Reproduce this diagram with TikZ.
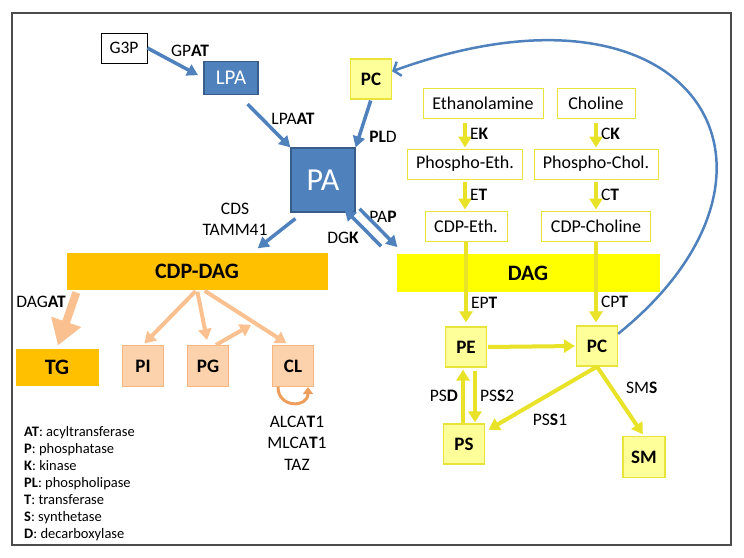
\documentclass[tikz,border=0pt]{standalone}
\usepackage{fontspec}
\setmainfont{Carlito}
\usepackage{tikz}
\usetikzlibrary{positioning,arrows.meta,calc}

\definecolor{pablue}{RGB}{79,129,189}
\definecolor{padark}{RGB}{56,93,138}
\definecolor{cdporange}{RGB}{255,192,0}
\definecolor{dagyellow}{RGB}{255,255,0}
\definecolor{lipyellow}{RGB}{255,255,153}
\definecolor{lipedge}{RGB}{232,228,60}
\definecolor{flowyellow}{RGB}{232,226,40}
\definecolor{peach}{RGB}{250,192,144}
\definecolor{peachfill}{RGB}{252,210,172}
\definecolor{peachedge}{RGB}{247,182,128}
\definecolor{cyclor}{RGB}{238,158,92}

\newcommand{\setfs}[2]{\fontsize{#1}{#2}\selectfont}

\begin{document}
\begin{tikzpicture}[x=1pt, y=-1pt,
  glyc/.style={fill=pablue, draw=padark, line width=1.2pt, text=white, inner sep=0pt},
  lipid/.style={fill=lipyellow, draw=lipedge, line width=1.2pt, inner sep=0pt,
    minimum width=41pt, minimum height=40pt, font=\bfseries\setfs{19}{21}},
  precursor/.style={fill=white, draw=lipedge, line width=1pt, inner sep=0pt,
    minimum height=30pt, font=\setfs{18}{21}},
  anionic/.style={fill=peachfill, draw=peachedge, line width=1.2pt, inner sep=0pt,
    minimum size=41pt, font=\bfseries\setfs{19}{21}},
  band/.style={inner sep=0pt, minimum height=37pt, font=\bfseries\setfs{22}{25}},
  enz/.style={font=\setfs{17.5}{21}, inner sep=3pt},
  bflow/.style={draw=pablue, line width=3.5pt, -{Triangle[length=11pt,width=12pt]}},
  yflow/.style={draw=flowyellow, line width=4pt, -{Triangle[length=11pt,width=13pt]}},
  oflow/.style={draw=peach, line width=4pt, -{Triangle[length=11pt,width=13pt]}}]

  \useasboundingbox (0,0) rectangle (744,557);
  \draw[black!70, line width=1.5pt] (12,13) rectangle (731,545);

  \node[draw, fill=white, line width=0.8pt, minimum width=46pt, minimum height=30pt,
    inner sep=0pt, font=\setfs{17.5}{20}] (g3p) at (124,48) {G3P};
  \node[glyc, minimum width=54pt, minimum height=33pt, font=\setfs{21}{24}] (lpa) at (231,78) {LPA};
  \node[glyc, minimum size=64pt, font=\setfs{32}{36}] (pa) at (323,180) {PA};
  \node[lipid] (pctop) at (371,79) {PC};
  \node[band, fill=cdporange, minimum width=261pt] (cdp) at (197,271) {CDP-DAG};
  \node[band, fill=dagyellow, minimum width=263pt, minimum height=38pt] (dag) at (528,273) {DAG};

  \node[precursor, minimum width=120pt] (etn) at (483,103) {Ethanolamine};
  \node[precursor, minimum width=78pt] (chol) at (596,103) {Choline};
  \node[precursor, minimum width=115pt] (peth) at (465,164) {Phospho-Eth.};
  \node[precursor, minimum width=124pt] (pchol) at (596,164) {Phospho-Chol.};
  \node[precursor, minimum width=82pt] (ceth) at (466,226) {CDP-Eth.};
  \node[precursor, minimum width=109pt] (cchol) at (596,226) {CDP-Choline};

  \node[lipid] (pe) at (466,347) {PE};
  \node[lipid] (pcmain) at (597,346) {PC};
  \node[lipid] (ps) at (464,444) {PS};
  \node[lipid, minimum width=42pt, minimum height=41pt] (sm) at (644,457) {SM};

  \node[band, fill=cdporange, minimum width=83pt] (tg) at (57,367) {TG};
  \node[anionic] (pi) at (143,366) {PI};
  \node[anionic] (pg) at (208,366) {PG};
  \node[anionic] (cl) at (293,366) {CL};

  \node[enz] (gpat) at (190,51) {GP\textbf{AT}};
  \node[enz] (lpaat) at (293,119) {LPA\textbf{AT}};
  \node[enz] (pld) at (383,137) {\textbf{PL}D};
  \node[enz, align=center] (cds) at (235,219) {CDS\\TAMM41};
  \node[enz] (pap) at (383,217) {PA\textbf{P}};
  \node[enz] (dgk) at (343,238) {DG\textbf{K}};
  \node[enz] (dagat) at (41,302) {DAG\textbf{AT}};
  \node[enz, align=center, font=\setfs{17.5}{21.5}] (clenz) at (297,443)
    {ALCA\textbf{T}1\\MLCA\textbf{T}1\\TAZ};
  \node[align=left, anchor=west, inner sep=0pt, font=\setfs{14.5}{17}] (legend) at (24,484)
    {\textbf{AT}: acyltransferase\\ \textbf{P}: phosphatase\\ \textbf{K}: kinase\\
     \textbf{PL}: phospholipase\\ \textbf{T}: transferase\\ \textbf{S}: synthetase\\
     \textbf{D}: decarboxylase};

  \coordinate (cljoin) at ($([xshift=6pt]cdp.south)!0.6!([xshift=-4pt]cl.north)$);

  \path
    (g3p.east) edge[bflow, shorten >=6pt] (lpa.west)
    ([xshift=-11pt, yshift=-9pt]lpa.south east) edge[bflow] (pa.north west)
    (pctop.south) edge[bflow, shorten <=1pt] (pa.north east)
    ([xshift=5pt, yshift=-6pt]pa.south west) edge[bflow] ([xshift=-70pt, yshift=4pt]cdp.north east)
    ($(pa.south east)!5.5pt!90:(dag.north west)$) edge[bflow, shorten >=4pt]
      ($(dag.north west)!5.5pt!-90:(pa.south east)$)
    ($(dag.north west)!5.5pt!90:(pa.south east)$) edge[bflow, shorten <=16pt, shorten >=-10pt]
      ($(pa.south east)!5.5pt!-90:(dag.north west)$);

  \path
    (etn.south -| peth.north) edge[yflow, shorten <=4pt, shorten >=1pt]
      node[enz, right] {E\textbf{K}} (peth.north)
    (peth.south) edge[yflow, shorten <=2pt, shorten >=1pt]
      node[enz, right] {E\textbf{T}} (peth.south |- ceth.north)
    (chol.south) edge[yflow, shorten <=4pt, shorten >=1pt]
      node[enz, right] {C\textbf{K}} (pchol.north)
    (pchol.south) edge[yflow, shorten <=2pt, shorten >=1pt]
      node[enz, right] {C\textbf{T}} (cchol.north)
    (ceth.south) edge[yflow, shorten >=4pt]
      node[enz, right, pos=0.72] {EP\textbf{T}} (ceth.south |- pe.north)
    (cchol.south) edge[yflow, shorten >=3pt]
      node[enz, right, pos=0.72] {CP\textbf{T}} (cchol.south |- pcmain.north)
    (pe.east) edge[yflow, shorten <=1pt, shorten >=1pt] (pcmain.west)
    ([xshift=-3pt]pe.south |- ps.north) edge[yflow, shorten >=2pt]
      node[enz, left] {PS\textbf{D}} ([xshift=-3pt]pe.south)
    ([xshift=9pt]pe.south) edge[yflow, shorten <=3pt, shorten >=1pt]
      node[enz, right] {PS\textbf{S}2} ([xshift=9pt]pe.south |- ps.north)
    (pcmain.south) edge[yflow, shorten >=4pt]
      node[enz, below=15pt, pos=0.42] {PS\textbf{S}1} (ps)
    (pcmain.south) edge[yflow, shorten >=2pt]
      node[enz, right=10pt, pos=0.3] {SM\textbf{S}} (sm.north);

  \draw[pablue, line width=2.5pt, -{Straight Barb[length=6pt,width=15pt]}]
    (pcmain.30) .. controls (819,172) and (697,-39) .. (pctop.20);

  \path
    ([xshift=11pt]cdp.south west) edge[oflow, line width=8pt, shorten <=3pt, shorten >=3pt,
      -{Triangle[length=25pt,width=30pt]}] (tg.north)
    (cdp.south) edge[oflow, shorten <=2pt, shorten >=2pt] (pi.north)
    (cdp.south) edge[oflow, shorten <=2pt, shorten >=5pt] (pg.north)
    ([xshift=6pt]cdp.south) edge[oflow, shorten <=2pt, shorten >=3pt] ([xshift=-4pt]cl.north)
    ([xshift=8pt]pg.north) edge[oflow, shorten >=4pt] (cljoin);

  \draw[cyclor, line width=3pt, -{Triangle[length=7pt,width=10pt]}]
    ([xshift=-15pt]cl.south) to[out=-90, in=-90, looseness=1.8] ([xshift=15pt]cl.south);

\end{tikzpicture}
\end{document}
